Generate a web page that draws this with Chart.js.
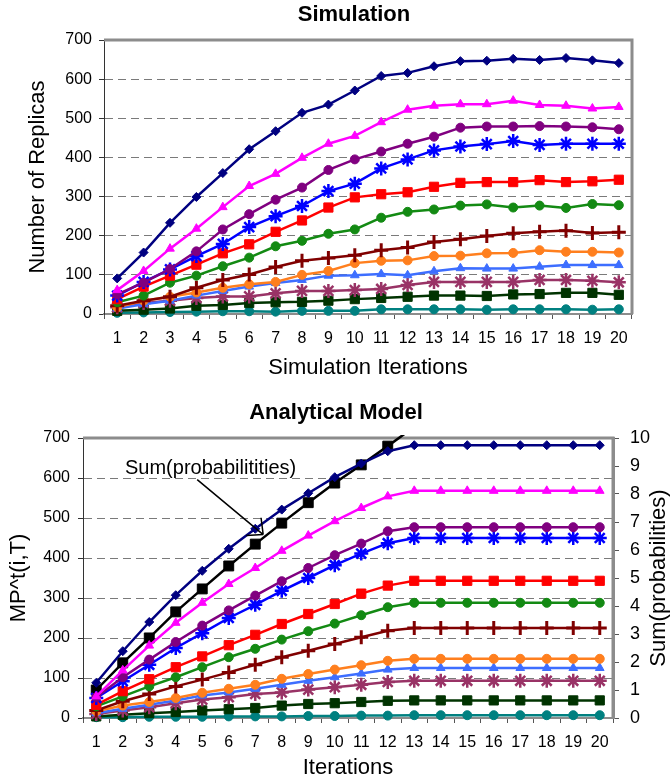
<!DOCTYPE html>
<html>
<head>
<meta charset="utf-8">
<script src="https://cdn.jsdelivr.net/npm/chart.js@4.4.1/dist/chart.umd.min.js"></script>
<style>
  html, body { margin: 0; padding: 0; background: #fff; }
  #simChart { position: absolute; left: 0; top: 0; }
  #modelChart { position: absolute; left: 0; top: 390px; }
</style>
</head>
<body>
<canvas id="simChart" width="670" height="390"></canvas>
<canvas id="modelChart" width="670" height="393"></canvas>
<script>
const iterations = ['1','2','3','4','5','6','7','8','9','10','11','12','13','14','15','16','17','18','19','20'];
const leftTicks = [0, 100, 200, 300, 400, 500, 600, 700];
const rightTicks = [0, 1, 2, 3, 4, 5, 6, 7, 8, 9, 10];

// Simulation (top)
const simNavy    = [91,157,233,299,360,421,467,514,535,571,608,616,633,646,647,652,649,654,648,641];
const simMagenta = [61,110,167,218,273,327,358,399,435,455,490,522,532,536,536,545,534,532,525,529];
const simPurple  = [50,80,115,160,216,255,292,323,368,395,415,435,453,476,479,479,480,479,477,472];
const simBlue    = [47,82,114,148,179,222,250,276,314,333,372,395,418,428,434,442,432,435,435,435];
const simRed     = [38,70,98,126,155,178,210,239,272,298,306,311,325,335,337,337,342,337,339,343];
const simGreen   = [30,47,80,98,122,144,173,187,205,216,246,261,267,277,280,272,277,271,281,278];
const simMaroon  = [21,34,44,67,87,101,120,136,143,150,163,170,184,191,199,206,210,213,207,209];
const simOrange  = [17,34,44,55,67,76,82,100,110,130,136,137,148,149,155,156,163,159,159,157];
const simSky     = [14,25,34,47,59,70,79,87,98,99,102,99,109,117,116,116,121,125,125,125];
const simMauve   = [17,28,34,41,45,45,53,59,59,61,64,74,82,82,82,82,87,87,85,81];
const simForest  = [8,11,14,21,23,28,30,31,34,38,41,44,47,47,46,50,51,54,54,49];
const simTeal    = [3,4,5,6,7,7,6,8,8,8,12,12,12,12,11,12,12,12,11,12];

// Analytical model (bottom)
const mpNavy    = [88,167,240,307,368,423,473,521,562,602,636,667,682,682,682,682,682,682,682,682];
const mpMagenta = [54,119,181,238,288,335,375,418,456,492,525,554,568,568,568,568,568,568,568,568];
const mpPurple  = [52,102,146,190,231,269,306,342,375,407,436,467,477,477,477,477,477,477,477,477];
const mpBlue    = [50,92,133,175,212,250,283,318,350,382,411,437,450,450,450,450,450,450,450,450];
const mpRed     = [33,67,97,127,154,182,208,235,260,285,311,331,343,343,343,343,343,343,343,343];
const mpGreen   = [29,54,79,102,127,152,173,196,217,236,257,277,288,288,288,288,288,288,288,288];
const mpMaroon  = [19,42,60,79,96,114,133,152,168,185,202,218,225,225,225,225,225,225,225,225];
const mpOrange  = [17,31,40,50,63,73,83,98,110,121,132,143,148,148,148,148,148,148,148,148];
const mpSky     = [12,23,33,44,56,64,73,83,93,102,111,121,125,125,125,125,125,125,125,125];
const mpMauve   = [10,19,27,37,46,52,60,64,71,77,83,90,93,93,93,93,93,93,93,93];
const mpForest  = [4,8,12,15,19,22,25,31,35,37,40,43,44,44,44,44,44,44,44,44];
const mpTeal    = [2,2,3,3,3,4,4,4,5,5,6,6,7,7,7,7,7,7,7,7];
const sumProb   = [1.0,1.97,2.86,3.79,4.61,5.43,6.21,6.96,7.69,8.39,9.04,9.71,10.4,null,null,null,null,null,null,null];

const FONT = "'Liberation Sans', Arial, sans-serif";

const seriesStyles = [
  { color: '#000080', shape: 'rectRot',  radius: 4.5, bw: 1 },
  { color: '#ff00ff', shape: 'triangle', radius: 5,   bw: 1 },
  { color: '#800080', shape: 'circle',   radius: 4.5, bw: 1 },
  { color: '#0000ff', shape: 'star',     radius: 7,   bw: 2.5 },
  { color: '#ff0000', shape: 'rect',     radius: 6.5, bw: 1 },
  { color: '#138a13', shape: 'circle',   radius: 4.5, bw: 1 },
  { color: '#800000', shape: 'cross',    radius: 7,   bw: 3 },
  { color: '#ff7f1e', shape: 'circle',   radius: 4.5, bw: 1 },
  { color: '#3d6eff', shape: 'triangle', radius: 5,   bw: 1 },
  { color: '#993366', shape: 'star',     radius: 7,   bw: 2.5 },
  { color: '#003300', shape: 'rect',     radius: 6.5, bw: 1 },
  { color: '#008080', shape: 'circle',   radius: 4.5, bw: 1 }
];

function buildSets(rows) {
  return rows.map((vals, i) => {
    const s = seriesStyles[i];
    return {
      label: 'S' + (i + 1),
      data: vals,
      yAxisID: 'y',
      borderColor: s.color,
      backgroundColor: s.color,
      pointStyle: s.shape,
      pointRadius: s.radius,
      pointBorderWidth: s.bw,
      pointBorderColor: s.color,
      pointBackgroundColor: s.color,
      borderWidth: 2.5,
      tension: 0,
      clip: false
    };
  });
}

// gray frame on top / right of plot, plus the bold heading
const framePlugin = {
  id: 'frame',
  beforeDatasetsDraw(chart, args, opts) {
    const a = chart.chartArea, ctx = chart.ctx;
    ctx.save();
    ctx.strokeStyle = '#8c8c8c';
    ctx.lineWidth = 3;
    ctx.beginPath();
    ctx.moveTo(a.left, a.top);
    ctx.lineTo(a.right, a.top);
    ctx.lineTo(a.right, a.bottom);
    ctx.stroke();
    ctx.font = 'bold 22px ' + FONT;
    ctx.fillStyle = '#000';
    ctx.textAlign = 'center';
    ctx.textBaseline = 'middle';
    ctx.fillText(opts.text, opts.x, opts.y);
    ctx.restore();
  }
};

function makeOptions(cfg) {
  const scales = {
    x: {
      offset: true,
      afterFit: s => { s.height = cfg.bottomHeight; },
      grid: { display: true, drawOnChartArea: false, offset: true, tickLength: 5, tickColor: '#555' },
      border: { color: '#8c8c8c', width: 2 },
      ticks: { color: '#000', padding: cfg.xPad, font: { family: FONT, size: 16 }, maxRotation: 0, autoSkip: false },
      title: { display: true, text: cfg.xTitle, color: '#000', font: { family: FONT, size: 22 }, padding: { top: 0, bottom: cfg.xTitlePad } }
    },
    y: {
      position: 'left',
      min: 0, max: 700,
      afterFit: s => { s.width = cfg.leftWidth; },
      afterBuildTicks: s => { s.ticks = leftTicks.map(v => ({ value: v })); },
      grid: {
        color: c => (c.tick && (c.tick.value === 0 || c.tick.value === 700)) ? 'rgba(0,0,0,0)' : '#7a7a7a',
        tickBorderDash: [],
        tickColor: '#333',
        tickLength: 5,
        lineWidth: 1
      },
      border: { color: '#333', width: 1, dash: [8, 5] },
      ticks: { color: '#000', padding: cfg.yPad, font: { family: FONT, size: 16 } },
      title: { display: true, text: cfg.yTitle, color: '#000', font: { family: FONT, size: 22 }, padding: { top: cfg.yTitlePad, bottom: cfg.yTitlePad } }
    }
  };
  if (cfg.right) {
    scales.y1 = {
      position: 'right',
      min: 0, max: 10,
      afterFit: s => { s.width = cfg.rightWidth; },
      afterBuildTicks: s => { s.ticks = rightTicks.map(v => ({ value: v })); },
      grid: { drawOnChartArea: false, tickLength: 6, tickColor: '#555' },
      border: { color: '#8c8c8c', width: 3 },
      ticks: { color: '#000', padding: 11, font: { family: FONT, size: 18 } },
      title: { display: false }
    };
  }
  return {
    responsive: false,
    animation: false,
    layout: { padding: { left: 0, right: cfg.padRight, top: cfg.padTop, bottom: 0 } },
    plugins: {
      legend: { display: false },
      tooltip: { enabled: false },
      title: { display: false },
      frame: { text: cfg.title, x: cfg.titleX, y: cfg.titleY }
    },
    scales
  };
}

new Chart(document.getElementById('simChart'), {
  type: 'line',
  data: {
    labels: iterations,
    datasets: buildSets([simNavy, simMagenta, simPurple, simBlue, simRed, simGreen, simMaroon, simOrange, simSky, simMauve, simForest, simTeal])
  },
  options: makeOptions({
    title: 'Simulation', titleX: 354, titleY: 15, padTop: 40,
    xTitle: 'Simulation Iterations', xTitlePad: 9, xPad: 10, bottomHeight: 76,
    yTitle: 'Number of Replicas', yTitlePad: 25, yPad: 7, leftWidth: 104,
    padRight: 38, right: false
  }),
  plugins: [framePlugin]
});

// annotation arrow pointing at the sum line + right axis title (bottom-to-top)
const annotationPlugin = {
  id: 'sumNote',
  afterDatasetsDraw(chart) {
    const ctx = chart.ctx, a = chart.chartArea;
    const tipX = chart.scales.x.getPixelForValue(6.3);
    const tipY = chart.scales.y1.getPixelForValue(6.55);
    const tailX = tipX - 66, tailY = tipY - 55;
    ctx.save();
    ctx.font = '20px ' + FONT;
    ctx.fillStyle = '#000';
    ctx.textBaseline = 'middle';
    ctx.textAlign = 'left';
    ctx.fillText('Sum(probabilitities)', a.left + 42, a.top + 30);
    ctx.strokeStyle = '#000';
    ctx.lineWidth = 1.5;
    ctx.beginPath();
    ctx.moveTo(tailX, tailY);
    ctx.lineTo(tipX, tipY);
    const ang = Math.atan2(tipY - tailY, tipX - tailX);
    const len = 17;
    ctx.moveTo(tipX, tipY);
    ctx.lineTo(tipX - len * Math.cos(ang - 0.75), tipY - len * Math.sin(ang - 0.75));
    ctx.moveTo(tipX, tipY);
    ctx.lineTo(tipX - len * Math.cos(ang + 0.75), tipY - len * Math.sin(ang + 0.75));
    ctx.stroke();

    ctx.translate(659, (a.top + a.bottom) / 2);
    ctx.rotate(-Math.PI / 2);
    ctx.textAlign = 'center';
    ctx.font = '22px ' + FONT;
    ctx.fillText('Sum(probabilities)', 0, 0);
    ctx.restore();
  }
};

const modelSets = buildSets([mpNavy, mpMagenta, mpPurple, mpBlue, mpRed, mpGreen, mpMaroon, mpOrange, mpSky, mpMauve, mpForest, mpTeal]);
modelSets.push({
  label: 'Sum(probabilities)',
  data: sumProb,
  yAxisID: 'y1',
  borderColor: '#000',
  backgroundColor: '#000',
  pointStyle: 'rect',
  pointRadius: 7,
  pointBorderWidth: 1,
  borderWidth: 2.5,
  tension: 0,
  clip: { left: 8, right: 8, top: 3, bottom: 8 }
});

new Chart(document.getElementById('modelChart'), {
  type: 'line',
  data: { labels: iterations, datasets: modelSets },
  options: makeOptions({
    title: 'Analytical Model', titleX: 336, titleY: 23, padTop: 48,
    xTitle: 'Iterations', xTitlePad: 2, xPad: 10, bottomHeight: 65,
    yTitle: 'MP^t(i,T)', yTitlePad: 6, yPad: 8, leftWidth: 83,
    padRight: 0, right: true, rightWidth: 57
  }),
  plugins: [framePlugin, annotationPlugin]
});
</script>
</body>
</html>
